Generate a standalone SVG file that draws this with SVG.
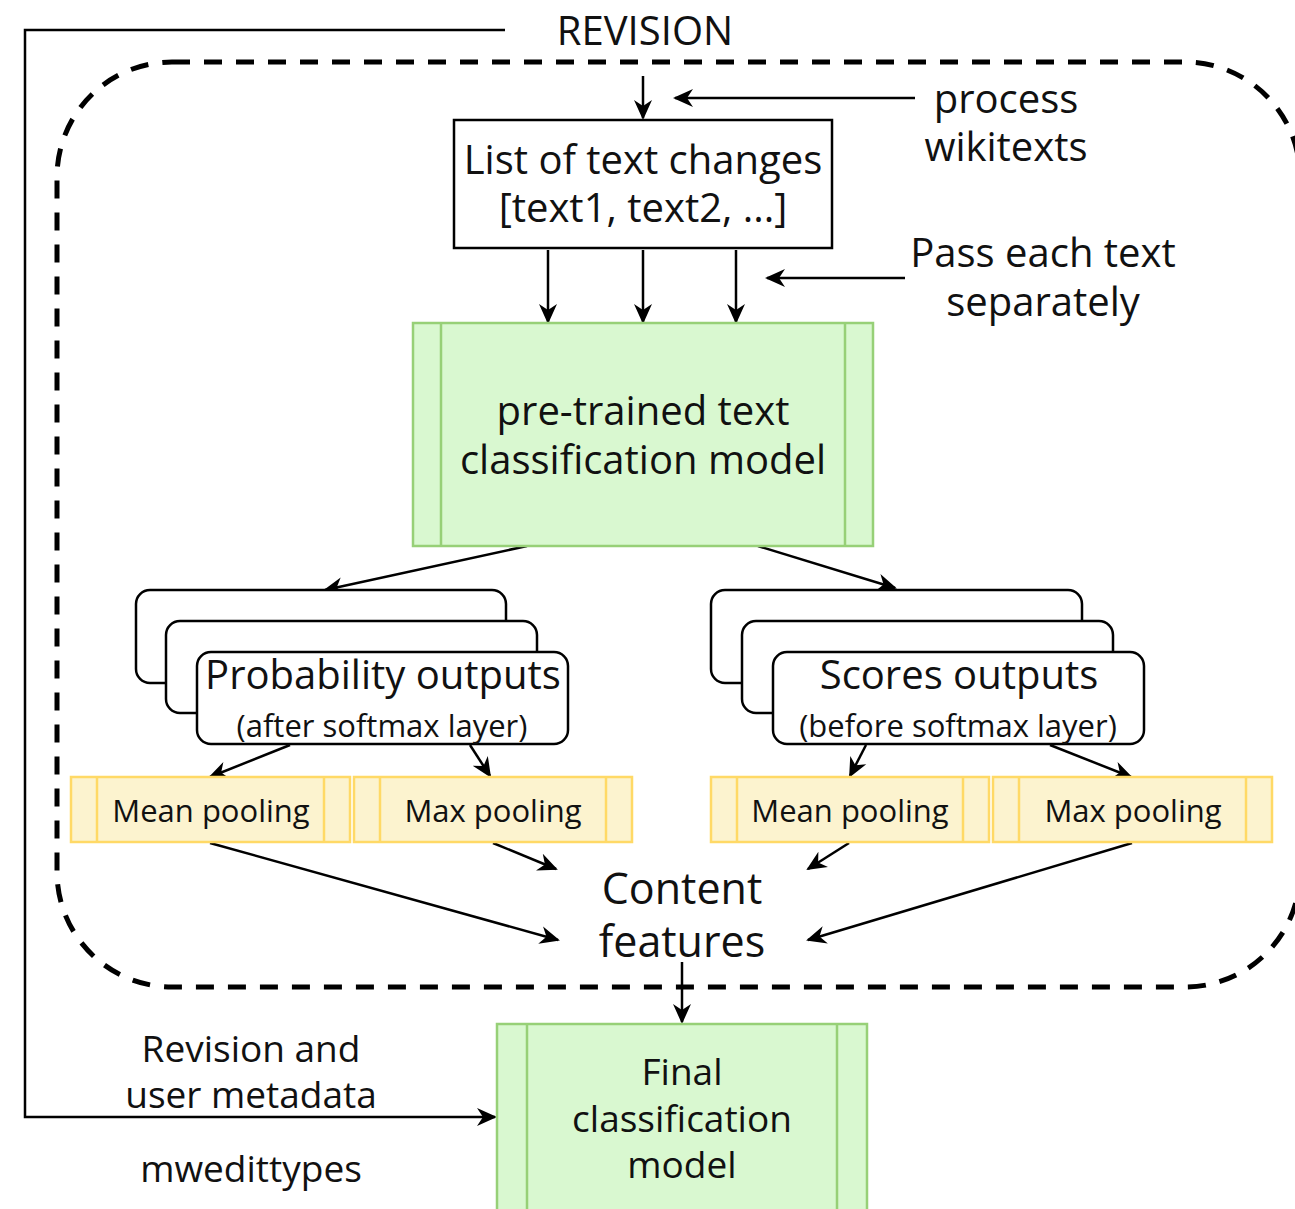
<svg xmlns="http://www.w3.org/2000/svg" width="1295" height="1209" viewBox="0 0 1295 1209">
<defs>
<marker id="ah" viewBox="0 0 20 20" refX="18" refY="10" markerWidth="20" markerHeight="20" markerUnits="userSpaceOnUse" orient="auto">
<path d="M0,1 L20,10 L0,19 L6,10 Z" fill="#000"/>
</marker>
<style>
text{font-family:"Open Sans","Noto Sans","DejaVu Sans",sans-serif;fill:#111;text-anchor:middle}
.conn line,.conn path{stroke:#000;stroke-width:2.5;fill:none}
.arr{marker-end:url(#ah)}
.green{fill:#d9f8d0;stroke:#97d077;stroke-width:2.5}
.gl{stroke:#97d077;stroke-width:2.5}
.yel{fill:#fcf3cf;stroke:#ffd966;stroke-width:2.5}
.yl{stroke:#ffd966;stroke-width:2.5}
.box{fill:#fff;stroke:#000;stroke-width:2.5}
.t40{font-size:40px}
.t43{font-size:43px}
.t37{font-size:37px}
.t31{font-size:31px}
</style>
</defs>
<rect width="1295" height="1209" fill="#fff"/>

<!-- dashed container -->
<rect id="container" x="57" y="62" width="1243" height="925" rx="115" ry="115" fill="none" stroke="#000" stroke-width="5" stroke-dasharray="18,14"/>

<g class="conn">
<path d="M505,30 L25,30 L25,1117 L495,1117" class="arr"/>
<line x1="643" y1="76" x2="643" y2="118" class="arr"/>
<line x1="915" y1="98" x2="675" y2="98" class="arr"/>
<line x1="548" y1="250" x2="548" y2="322" class="arr"/>
<line x1="643" y1="250" x2="643" y2="322" class="arr"/>
<line x1="736" y1="250" x2="736" y2="322" class="arr"/>
<line x1="905" y1="278" x2="767" y2="278" class="arr"/>
<line x1="527" y1="546" x2="325" y2="590" class="arr"/>
<line x1="758" y1="546" x2="895" y2="588" class="arr"/>
<line x1="290" y1="745" x2="210" y2="777" class="arr"/>
<line x1="470" y1="745" x2="490" y2="776" class="arr"/>
<line x1="866" y1="745" x2="850" y2="776" class="arr"/>
<line x1="1050" y1="745" x2="1131" y2="777" class="arr"/>
<line x1="210" y1="843" x2="558" y2="940" class="arr"/>
<line x1="493" y1="843" x2="556" y2="869" class="arr"/>
<line x1="849" y1="843" x2="808" y2="869" class="arr"/>
<line x1="1132" y1="843" x2="808" y2="940" class="arr"/>
<line x1="682" y1="962" x2="682" y2="1022" class="arr"/>
</g>

<g id="revision-label"><text class="t40" x="645" y="45">REVISION</text></g>
<g id="process-label"><text class="t40" x="1006" y="113">process</text><text class="t40" x="1006" y="161">wikitexts</text></g>
<g id="pass-label"><text class="t40" x="1043" y="267">Pass each text</text><text class="t40" x="1043" y="316">separately</text></g>

<g id="list-box">
<rect class="box" x="454" y="120" width="378" height="128"/>
<text class="t40" x="643" y="174">List of text changes</text>
<text class="t40" x="643" y="222">[text1, text2, ...]</text>
</g>

<g id="pretrained">
<rect class="green" x="413" y="323" width="460" height="223"/>
<line class="gl" x1="441" y1="323" x2="441" y2="546"/>
<line class="gl" x1="845" y1="323" x2="845" y2="546"/>
<text class="t40" x="643" y="425">pre-trained text</text>
<text class="t40" x="643" y="474">classification model</text>
</g>

<g id="prob-stack">
<rect class="box" x="136" y="590" width="370" height="93" rx="14"/>
<rect class="box" x="166" y="621" width="371" height="92" rx="14"/>
<rect class="box" x="197" y="652" width="371" height="92" rx="14"/>
<text class="t40" x="383" y="689">Probability outputs</text>
<text class="t31" x="382" y="737">(after softmax layer)</text>
</g>

<g id="scores-stack">
<rect class="box" x="711" y="590" width="371" height="93" rx="14"/>
<rect class="box" x="742" y="621" width="371" height="92" rx="14"/>
<rect class="box" x="773" y="652" width="371" height="92" rx="14"/>
<text class="t40" x="959" y="689">Scores outputs</text>
<text class="t31" x="958" y="737">(before softmax layer)</text>
</g>

<g id="mean-left">
<rect class="yel" x="71" y="777" width="279" height="65"/>
<line class="yl" x1="97" y1="777" x2="97" y2="842"/><line class="yl" x1="324" y1="777" x2="324" y2="842"/>
<text class="t31" x="211" y="822">Mean pooling</text>
</g>
<g id="max-left">
<rect class="yel" x="354" y="777" width="278" height="65"/>
<line class="yl" x1="380" y1="777" x2="380" y2="842"/><line class="yl" x1="606" y1="777" x2="606" y2="842"/>
<text class="t31" x="493" y="822">Max pooling</text>
</g>
<g id="mean-right">
<rect class="yel" x="711" y="777" width="278" height="65"/>
<line class="yl" x1="737" y1="777" x2="737" y2="842"/><line class="yl" x1="963" y1="777" x2="963" y2="842"/>
<text class="t31" x="850" y="822">Mean pooling</text>
</g>
<g id="max-right">
<rect class="yel" x="993" y="777" width="279" height="65"/>
<line class="yl" x1="1019" y1="777" x2="1019" y2="842"/><line class="yl" x1="1246" y1="777" x2="1246" y2="842"/>
<text class="t31" x="1133" y="822">Max pooling</text>
</g>

<g id="content-features">
<text class="t43" x="682" y="904">Content</text>
<text class="t43" x="682" y="957">features</text>
</g>

<g id="final-model">
<rect class="green" x="497" y="1024" width="370" height="200"/>
<line class="gl" x1="527" y1="1024" x2="527" y2="1224"/>
<line class="gl" x1="837" y1="1024" x2="837" y2="1224"/>
<text class="t37" x="682" y="1085">Final</text>
<text class="t37" x="682" y="1132">classification</text>
<text class="t37" x="682" y="1178">model</text>
</g>

<g id="metadata-label">
<text class="t37" x="251" y="1062">Revision and</text>
<text class="t37" x="251" y="1108">user metadata</text>
<text class="t37" x="251" y="1182">mwedittypes</text>
</g>
</svg>
